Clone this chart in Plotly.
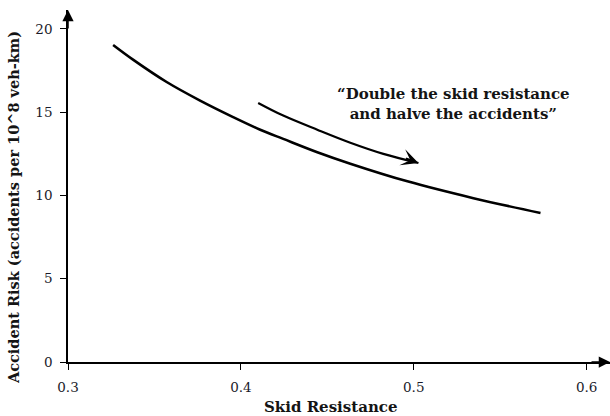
import plotly.graph_objects as go

# Main curve: skid resistance vs accident risk
skid = [0.3261, 0.3376, 0.3573, 0.3764, 0.3955, 0.4112, 0.4245, 0.4442, 0.4633, 0.4963, 0.5345, 0.5733]
risk = [19.04, 18.16, 16.80, 15.70, 14.71, 13.95, 13.40, 12.60, 11.91, 10.85, 9.84, 8.95]

# Curved annotation arrow path
arrow_x = [0.4100, 0.4245, 0.4442, 0.4633, 0.4824, 0.5027]
arrow_y = [15.56, 14.80, 13.95, 13.17, 12.50, 11.95]

x_ticks = [0.3, 0.4, 0.5, 0.6]
x_tick_labels = ["0.3", "0.4", "0.5", "0.6"]
y_ticks = [0, 5, 10, 15, 20]
y_tick_labels = ["0", "5", "10", "15", "20"]

x_range = [0.3, 0.6135]
y_range = [0, 21.14]

FONT = "DejaVu Serif"

fig = go.Figure()
fig.add_trace(go.Scatter(x=skid, y=risk, mode="lines",
                         line=dict(color="black", width=2.6, shape="spline", smoothing=1.0),
                         hoverinfo="skip", showlegend=False))
fig.add_trace(go.Scatter(x=arrow_x, y=arrow_y, mode="lines",
                         line=dict(color="black", width=2.2, shape="spline", smoothing=1.0),
                         hoverinfo="skip", showlegend=False))

annotations = [
    # arrow head of curved arrow
    dict(x=arrow_x[-1], y=arrow_y[-1], ax=-14, ay=-5,
         xref="x", yref="y", axref="pixel", ayref="pixel", text="",
         showarrow=True, arrowhead=3, arrowsize=1.3, arrowwidth=2.2, arrowcolor="black",
         standoff=0),
    # axis arrows
    dict(x=x_range[1], y=0, ax=-20, ay=0,
         xref="x", yref="y", axref="pixel", ayref="pixel", text="",
         showarrow=True, arrowhead=2, arrowsize=1.5, arrowwidth=1.5, arrowcolor="black"),
    dict(x=0.3, y=y_range[1], ax=0, ay=20,
         xref="x", yref="y", axref="pixel", ayref="pixel", text="",
         showarrow=True, arrowhead=2, arrowsize=1.5, arrowwidth=1.5, arrowcolor="black"),
    # quote text
    dict(x=0.523, y=15.5, xref="x", yref="y", showarrow=False,
         text="<b>“Double the skid resistance<br>and halve the accidents”</b>",
         align="center", font=dict(family=FONT, size=15, color="#141414")),
    # axis titles
    dict(x=0.4834, y=0, xref="paper", yref="paper", yshift=-45, showarrow=False,
         text="<b>Skid Resistance</b>", yanchor="middle",
         font=dict(family=FONT, size=15, color="#141414")),
    dict(x=-0.1015, y=0.44, xref="paper", yref="paper", showarrow=False,
         text="<b>Accident Risk (accidents per 10^8 veh-km)</b>", textangle=-90,
         xanchor="center", yanchor="middle",
         font=dict(family=FONT, size=14.5, color="#141414")),
]

fig.update_layout(
    width=610, height=416,
    margin=dict(l=68, r=0, t=10, b=54),
    paper_bgcolor="white", plot_bgcolor="white",
    showlegend=False,
    annotations=annotations,
    xaxis=dict(range=x_range, tickvals=x_ticks, ticktext=x_tick_labels,
               showgrid=False, zeroline=False, showline=True, linecolor="black", linewidth=1.5,
               ticks="outside", ticklen=6, tickwidth=1, tickcolor="black",
               ticklabelstandoff=6,
               tickfont=dict(family=FONT, size=13.5, color="#1a1a2a")),
    yaxis=dict(range=y_range, tickvals=y_ticks, ticktext=y_tick_labels,
               showgrid=False, zeroline=False, showline=True, linecolor="black", linewidth=1.5,
               ticks="outside", ticklen=6, tickwidth=1, tickcolor="black",
               ticklabelstandoff=5,
               tickfont=dict(family=FONT, size=13.5, color="#1a1a2a")),
)

fig.write_html("out.html")
